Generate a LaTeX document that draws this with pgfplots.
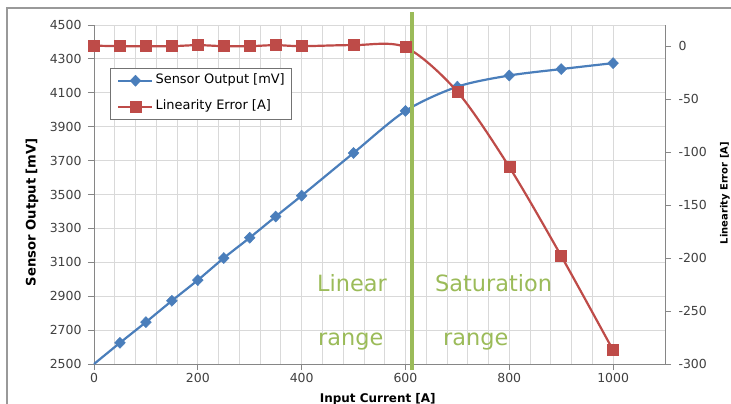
\documentclass[border=0pt]{standalone}
\usepackage{fontspec}
\setmainfont{DejaVu Sans}
\usepackage{pgfplots}
\pgfplotsset{compat=1.18}

\definecolor{sblue}{HTML}{4A7EBB}
\definecolor{sred}{HTML}{BE4B48}
\definecolor{sgreen}{HTML}{9BBB59}
\definecolor{gridgray}{HTML}{D9D9D9}
\definecolor{axgray}{HTML}{868686}

% shared frame of both axes: plot area 571 x 339 bp
\pgfplotsset{
  chartbase/.style={
    scale only axis,
    width=571bp, height=339bp,
    xmin=0, xmax=1100,
    tick align=outside,
    major tick length=6bp,
    minor tick length=0pt,
    tick style={axgray, line width=0.8bp},
    axis line style={axgray, line width=0.8bp, -},
    /pgf/number format/assume math mode=true,
    /pgf/number format/1000 sep={},
    ticklabel style={font=\fontsize{12.5}{15}\selectfont, text=black!75},
    clip=false,
  },
}

\begin{document}
\begin{tikzpicture}
\begin{axis}[
  chartbase,
  name=ax,
  ymin=2500, ymax=4500,
  ytick={2500,2700,...,4500},
  xtick={0,200,...,1000},
  minor x tick num=4,
  axis x line*=bottom,
  axis y line*=left,
  xmajorgrids, xminorgrids, ymajorgrids,
  major grid style={gridgray, line width=0.8bp},
  minor grid style={gridgray, line width=0.8bp},
  yticklabel style={xshift=-3bp},
  xlabel={Input Current [A]},
  xlabel style={at={(axis description cs:0.497,-0.114)}, anchor=base,
    inner sep=0pt, font=\fontsize{12}{14}\selectfont\bfseries},
  ylabel={Sensor Output [mV]},
  ylabel style={at={(axis description cs:-0.1086,0.448)}, anchor=center,
    inner sep=0pt, font=\fontsize{13.2}{15}\selectfont\bfseries},
]
% sensor output, no marker at 0 A
\addplot[sblue, line width=2.2bp, smooth, tension=0.5,
  mark=diamond*, mark size=5.5bp,
  mark options={solid, xscale=1.3, line width=0.5bp, fill=sblue, draw=sblue},
  mark indices={2,3,4,5,6,7,8,9,10,11,12,13,14,15}]
coordinates {
  (0,2500) (50,2625) (100,2747) (150,2873) (200,2995) (250,3125)
  (300,3245) (350,3370) (400,3493) (500,3745) (600,3993)
  (700,4136) (800,4202) (900,4240) (1000,4275)
};
\end{axis}

\begin{axis}[
  chartbase,
  ymin=-300, ymax=20,
  ytick={-300,-250,...,0},
  axis y line*=right,
  axis x line=none,
  yticklabel style={anchor=west, xshift=4bp},
  ylabel={Linearity Error [A]},
  ylabel style={at={(axis description cs:1.105,0.504)}, anchor=center,
    rotate=0, inner sep=0pt, font=\fontsize{10}{12}\selectfont\bfseries},
  legend cell align=left,
  legend style={
    at={(0.028,0.873)}, anchor=north west,
    draw=black!55, line width=0.8bp, fill=white,
    font=\fontsize{13}{15}\selectfont,
    nodes={inner sep=0pt, text height=9.5bp, text depth=3bp},
    row sep=13.5bp, inner xsep=7bp, inner ysep=6bp,
    /tikz/every odd column/.append style={column sep=2bp},
  },
  legend image code/.code={
    \draw[#1, mark repeat=2, mark phase=2]
      plot coordinates {(0bp,0bp) (17bp,0bp) (34bp,0bp)};
  },
]
\addlegendimage{sblue, line width=2.2bp, mark=diamond*, mark size=5.5bp,
  mark options={solid, xscale=1.3, line width=0.5bp, fill=sblue, draw=sblue}}
\addlegendentry{Sensor Output [mV]}

\addplot[sred, line width=2.2bp, smooth, tension=0.5,
  mark=square*, mark size=5.5bp,
  mark options={solid, line width=0.5bp, fill=sred, draw=sred}]
coordinates {
  (0,0.5) (50,0) (100,0) (150,0) (200,1) (250,0) (300,0) (350,1)
  (400,0) (500,1) (600,-1) (700,-43) (800,-114) (900,-198) (1000,-287)
};
\addlegendentry{Linearity Error [A]}

% boundary between the two ranges
\draw[sgreen, line width=4bp] (axis cs:612.6,-305.7) -- (axis cs:612.6,32.3);
\begin{scope}[every node/.style={anchor=base west, inner sep=0pt,
    text=sgreen, font=\fontsize{22.5}{26}\selectfont}]
  \node at (axis cs:429.6,-231.1) {Linear};
  \node at (axis cs:431.5,-282.1) {range};
  \node at (axis cs:656.9,-231.1) {Saturation};
  \node at (axis cs:672.3,-282.1) {range};
\end{scope}
\end{axis}

% chart area border (cut at right and bottom)
\draw[black!40, line width=1.5bp]
  ([shift={(-87bp,-60bp)}]ax.south west) -- ([shift={(-87bp,356bp)}]ax.south west)
  -- ([shift={(700bp,356bp)}]ax.south west);

\pgfresetboundingbox
\path[use as bounding box]
  ([shift={(-94bp,-40bp)}]ax.south west) rectangle ([shift={(637bp,364bp)}]ax.south west);
\end{tikzpicture}
\end{document}
